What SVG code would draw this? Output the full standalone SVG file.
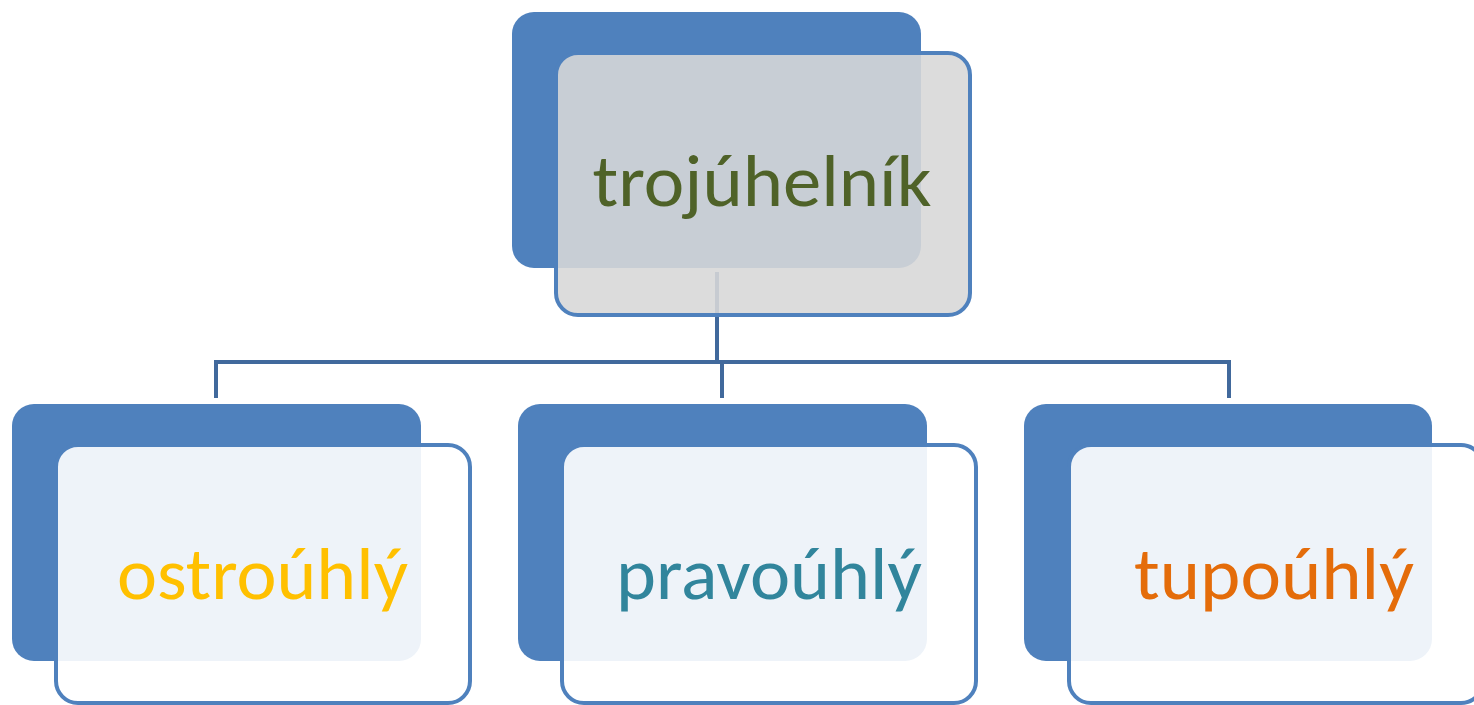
<svg xmlns="http://www.w3.org/2000/svg" width="1474" height="705" viewBox="0 0 1474 705">
<style>
.back{fill:#4f81bd}
.frontTop{fill:#d8d8d8;fill-opacity:0.89;stroke:#4f81bd;stroke-width:4}
.front{fill:#ffffff;fill-opacity:0.9;stroke:#4f81bd;stroke-width:4}
.lbl{font-family:"Carlito","Noto Sans","Open Sans",sans-serif;font-size:73px;text-anchor:middle}
.conn{stroke:#41699c;stroke-width:4;fill:none}
</style>
<rect width="1474" height="705" fill="#ffffff"/>
<g id="connectors">
<path class="conn" d="M717,272 V362"/>
<path class="conn" d="M216,398 V362 H1229 V398"/>
<path class="conn" d="M722,362 V398"/>
</g>
<g id="node-trojuhelnik">
<rect class="back" x="512" y="12" width="409" height="256" rx="22"/>
<rect class="frontTop" x="556" y="53" width="414" height="262" rx="22"/>
<text class="lbl" x="762" y="206" fill="#4f6228" textLength="339" lengthAdjust="spacingAndGlyphs">trojúhelník</text>
</g>
<g id="node-ostrouhly">
<rect class="back" x="12" y="404" width="409" height="257" rx="22"/>
<rect class="front" x="56" y="445" width="414" height="258" rx="22"/>
<text class="lbl" x="262.5" y="599" fill="#ffc000" textLength="291" lengthAdjust="spacingAndGlyphs">ostroúhlý</text>
</g>
<g id="node-pravouhly">
<rect class="back" x="518" y="404" width="409" height="257" rx="22"/>
<rect class="front" x="562" y="445" width="414" height="258" rx="22"/>
<text class="lbl" x="769" y="599" fill="#31859c" textLength="306" lengthAdjust="spacingAndGlyphs">pravoúhlý</text>
</g>
<g id="node-tupouhly">
<rect class="back" x="1024" y="404" width="408" height="257" rx="22"/>
<rect class="front" x="1069" y="445" width="414" height="258" rx="22"/>
<text class="lbl" x="1274" y="599" fill="#e46c0a" textLength="280" lengthAdjust="spacingAndGlyphs">tupoúhlý</text>
</g>
</svg>
